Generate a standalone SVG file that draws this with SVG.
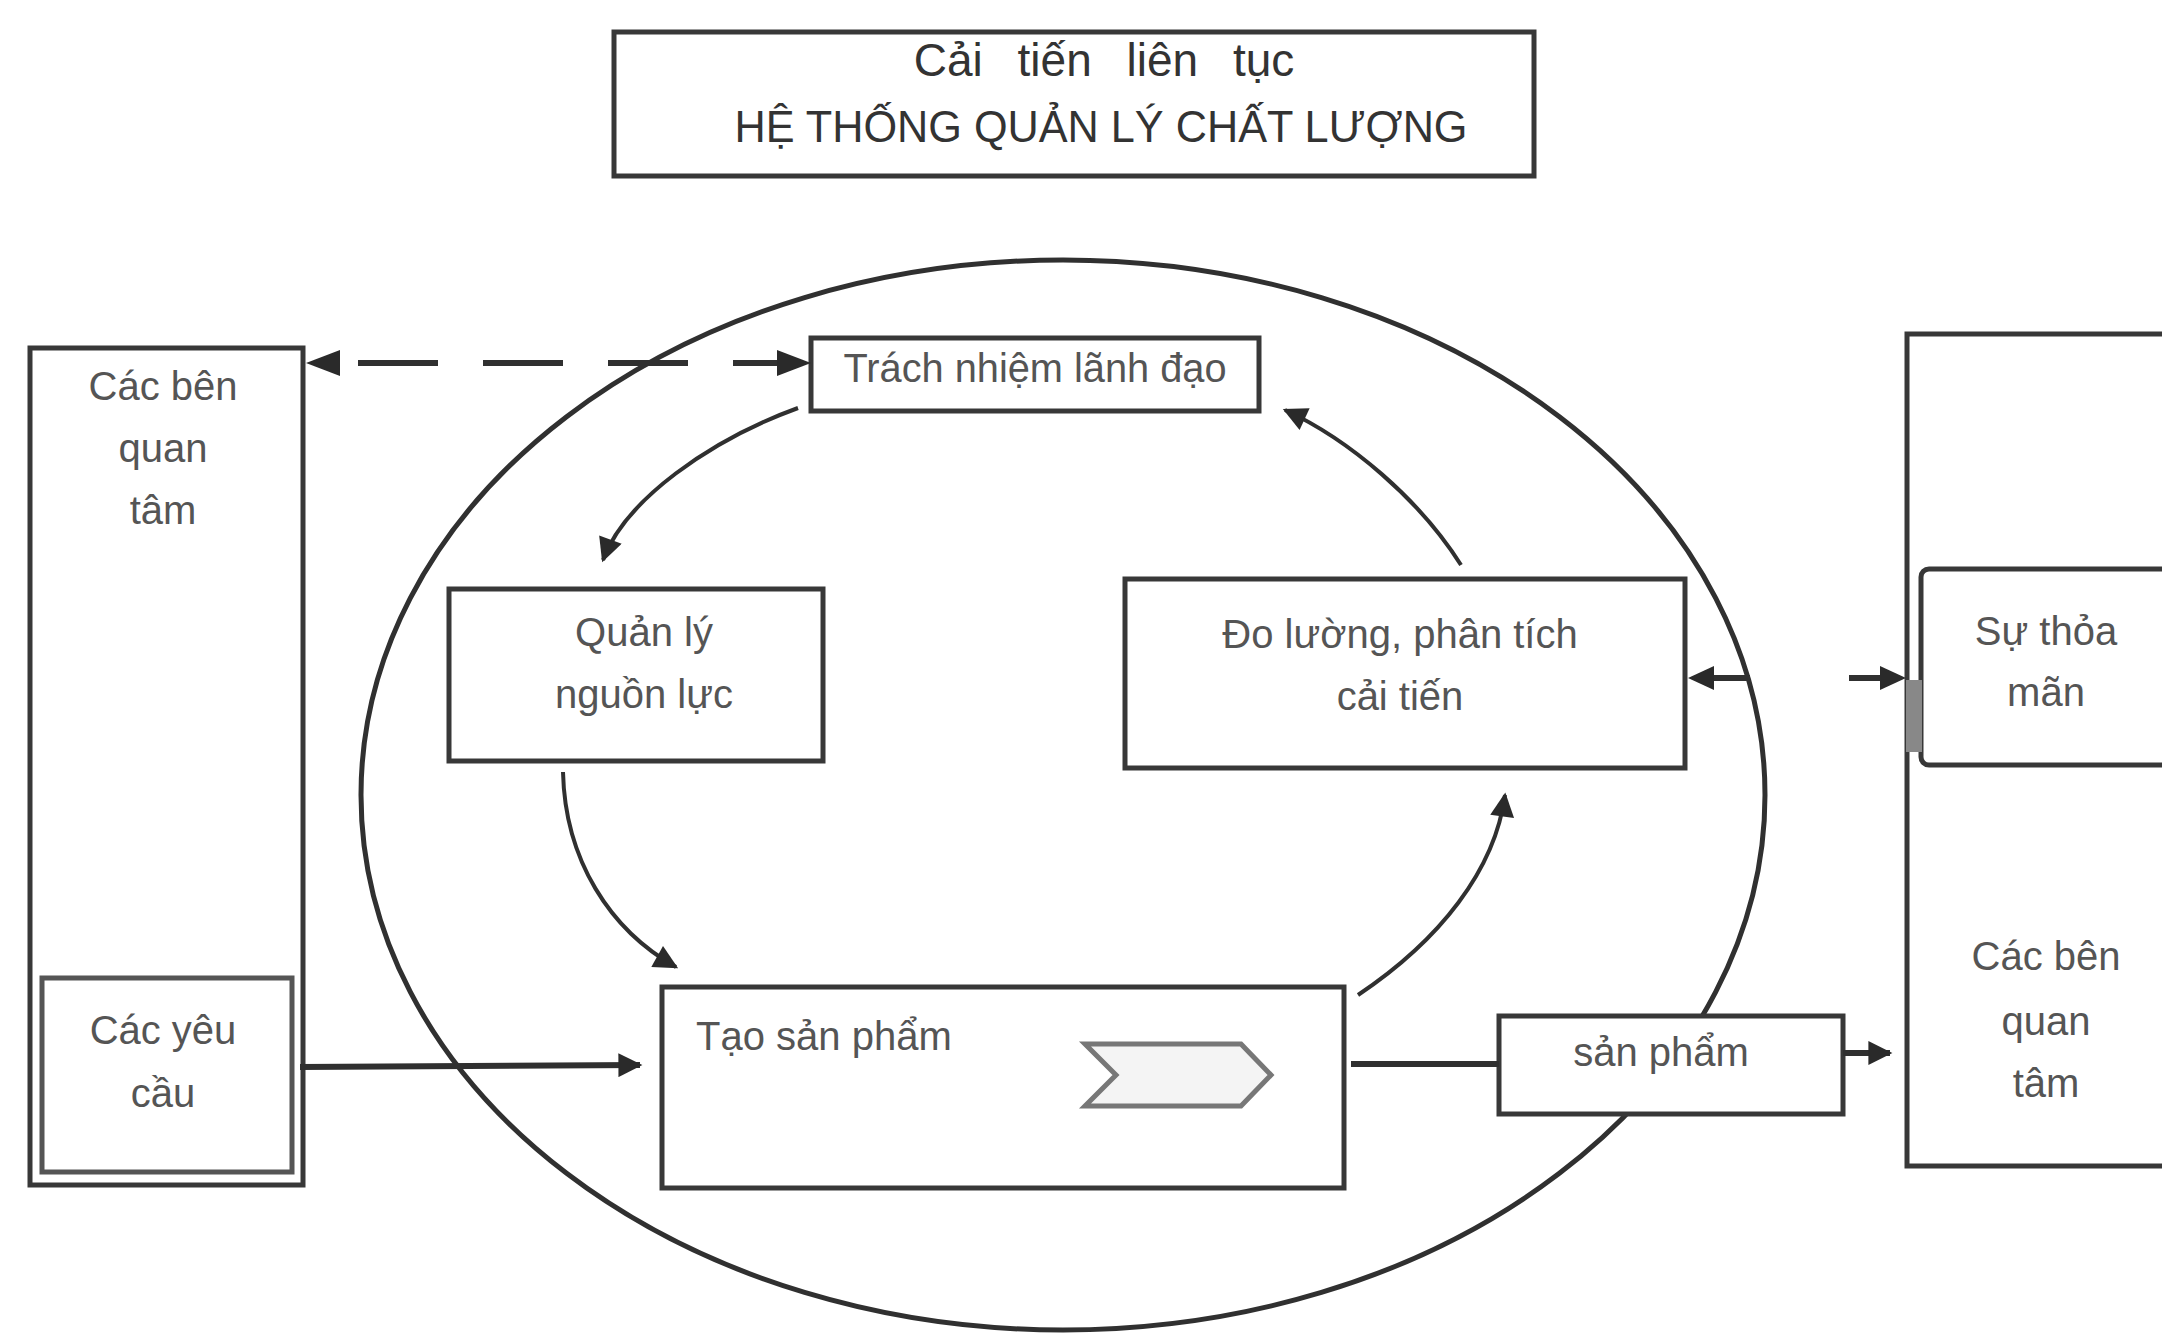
<svg xmlns="http://www.w3.org/2000/svg" width="2162" height="1333" viewBox="0 0 2162 1333">
<style>
.box{fill:#fff;stroke:#383838;stroke-width:5}
.lbl{font-family:"Liberation Sans",Arial,sans-serif;font-size:40px;fill:#555;text-anchor:middle}
.lbls{font-family:"Liberation Sans",Arial,sans-serif;font-size:40px;fill:#555;text-anchor:start}
.con{fill:none;stroke:#303030;stroke-width:4}
.thick{fill:none;stroke:#303030;stroke-width:6}
</style>
<defs>
<marker id="ahs" viewBox="0 0 10 10" refX="9" refY="5" markerWidth="28" markerHeight="24" orient="auto-start-reverse" markerUnits="userSpaceOnUse">
<path d="M0,0 L10,5 L0,10 z" fill="#2a2a2a"/>
</marker>
</defs>
<rect width="2162" height="1333" fill="#fff"/>

<g id="title">
<rect x="614" y="32" width="920" height="144" fill="#fff" stroke="#383838" stroke-width="5"/>
<text x="1104" y="76" font-family="Liberation Sans,Arial,sans-serif" font-size="46" fill="#333" text-anchor="middle" word-spacing="22">Cải tiến liên tục</text>
<text x="1101" y="142" font-family="Liberation Sans,Arial,sans-serif" font-size="44" fill="#333" text-anchor="middle" textLength="733" lengthAdjust="spacingAndGlyphs">HỆ THỐNG QUẢN LÝ CHẤT LƯỢNG</text>
</g>

<g id="system">
<ellipse cx="1063" cy="795" rx="702" ry="535" fill="none" stroke="#303030" stroke-width="5"/>
</g>

<g id="left-stakeholders">
<rect class="box" x="30" y="348" width="273" height="837" stroke-width="6"/>
<text class="lbl" x="163" y="400">Các bên</text>
<text class="lbl" x="163" y="462">quan</text>
<text class="lbl" x="163" y="524">tâm</text>
</g>

<g id="requirements">
<rect x="42" y="978" width="250" height="194" fill="#fff" stroke="#555" stroke-width="5"/>
<text class="lbl" x="163" y="1044">Các yêu</text>
<text class="lbl" x="163" y="1107">cầu</text>
</g>

<g id="leadership">
<rect class="box" x="811" y="338" width="448" height="73"/>
<text class="lbl" x="1035" y="382" font-size="36" textLength="383" lengthAdjust="spacingAndGlyphs">Trách nhiệm lãnh đạo</text>
</g>

<g id="resources">
<rect class="box" x="449" y="589" width="374" height="172"/>
<text class="lbl" x="644" y="646">Quản lý</text>
<text class="lbl" x="644" y="708">nguồn lực</text>
</g>

<g id="measurement">
<rect class="box" x="1125" y="579" width="560" height="189"/>
<text class="lbl" x="1400" y="648">Đo lường, phân tích</text>
<text class="lbl" x="1400" y="710">cải tiến</text>
</g>

<g id="realization">
<rect class="box" x="662" y="987" width="682" height="201"/>
<text class="lbls" x="696" y="1050">Tạo sản phẩm</text>
<polygon points="1085,1044 1241,1044 1271,1075 1241,1106 1085,1106 1116,1075" fill="#f4f4f4" stroke="#777" stroke-width="5"/>
</g>

<g id="product">
<rect class="box" x="1499" y="1016" width="344" height="98"/>
<text class="lbl" x="1661" y="1066">sản phẩm</text>
</g>

<g id="right-stakeholders">
<rect class="box" x="1907" y="334" width="300" height="832" stroke-width="6"/>
<text class="lbl" x="2046" y="970">Các bên</text>
<text class="lbl" x="2046" y="1035">quan</text>
<text class="lbl" x="2046" y="1097">tâm</text>
</g>

<g id="satisfaction">
<rect class="box" x="1921" y="569" width="280" height="196" rx="8"/>
<rect x="1906" y="680" width="16" height="72" fill="#888"/>
<text class="lbl" x="2046" y="645">Sự thỏa</text>
<text class="lbl" x="2046" y="706">mãn</text>
</g>

<g id="connectors">
<line class="thick" x1="338" y1="363" x2="780" y2="363" stroke-width="7" stroke-dasharray="80 45" stroke-dashoffset="-20"/>
<path d="M306,363 L340,350 L340,376 z" fill="#2a2a2a"/>
<path d="M811,363 L777,350 L777,376 z" fill="#2a2a2a"/>
<path class="con" d="M798,408 C710,440 625,500 603,560" marker-end="url(#ahs)"/>
<path class="con" d="M563,772 C565,860 610,930 676,967" marker-end="url(#ahs)"/>
<path class="con" d="M1358,995 C1440,940 1495,870 1505,795" marker-end="url(#ahs)"/>
<path class="con" d="M1461,565 C1420,500 1350,440 1285,410" marker-end="url(#ahs)"/>
<line class="thick" x1="300" y1="1067" x2="640" y2="1065" marker-end="url(#ahs)"/>
<line class="thick" x1="1351" y1="1064" x2="1499" y2="1064"/>
<line class="thick" x1="1843" y1="1053" x2="1890" y2="1053" marker-end="url(#ahs)"/>
<line class="thick" x1="1705" y1="678" x2="1750" y2="678"/>
<path d="M1688,678 L1714,666 L1714,690 z" fill="#2a2a2a"/>
<line class="thick" x1="1849" y1="678" x2="1880" y2="678"/>
<path d="M1906,678 L1880,666 L1880,690 z" fill="#2a2a2a"/>
</g>
</svg>
